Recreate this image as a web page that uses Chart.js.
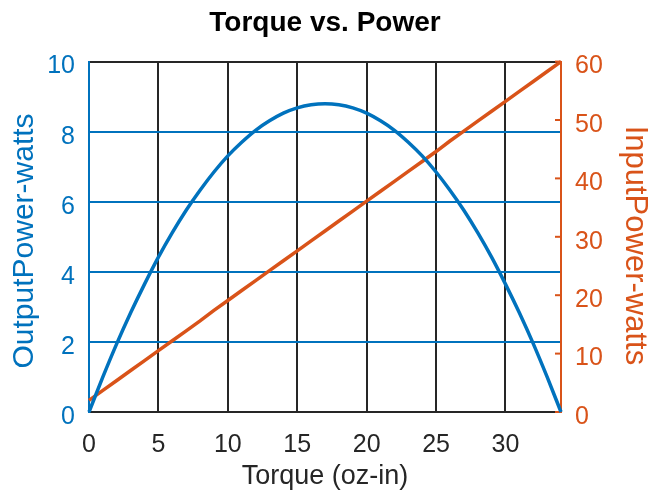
<!DOCTYPE html>
<html>
<head>
<meta charset="utf-8">
<script src="https://cdn.jsdelivr.net/npm/chart.js@4"></script>
<style>
  html, body { margin: 0; padding: 0; background: #fff; }
  #wrap { width: 660px; height: 491px; }
</style>
</head>
<body>
<div id="wrap"><canvas id="chart" width="660" height="491"></canvas></div>
<script>
// torque (oz-in) sample points
const torque = [0, 1, 2, 3, 4, 5, 6, 7, 8, 9, 10, 11, 12, 13, 14, 15, 16, 17,
    18, 19, 20, 21, 22, 23, 24, 25, 26, 27, 28, 29, 30, 31, 32, 33, 34];
// output power (watts), left axis
const outputPower = [0, 1.00, 1.95, 2.83, 3.65, 4.42, 5.12, 5.76, 6.33, 6.85, 7.31, 7.70,
    8.04, 8.31, 8.53, 8.68, 8.77, 8.80, 8.77, 8.68, 8.53, 8.31, 8.04, 7.70, 7.31,
    6.85, 6.33, 5.76, 5.12, 4.42, 3.65, 2.83, 1.95, 1.00, 0];
// input power (watts), right axis
const inputPower = [2.0, 3.7, 5.4, 7.1, 8.8, 10.5, 12.2, 13.9, 15.6, 17.4, 19.1, 20.8,
    22.5, 24.2, 25.9, 27.6, 29.3, 31.0, 32.7, 34.4, 36.1, 37.8, 39.5, 41.2, 42.9,
    44.6, 46.4, 48.1, 49.8, 51.5, 53.2, 54.9, 56.6, 58.3, 60.0];

const xTicks = [0, 5, 10, 15, 20, 25, 30];

const blue = '#0072BD';
const orange = '#D95319';
const dark = '#262626';
const font = 'Liberation Sans, Arial, Helvetica, sans-serif';

// short inward tick marks on the right axis (matlab style)
const innerTicks = {
    id: 'innerTicks',
    beforeDatasetsDraw(chart) {
        const s = chart.scales.y2;
        const c = chart.ctx;
        c.save();
        c.strokeStyle = orange;
        c.lineWidth = 2;
        s.ticks.forEach(t => {
            const y = s.getPixelForValue(t.value);
            c.beginPath();
            c.moveTo(s.left - 6, y);
            c.lineTo(s.left, y);
            c.stroke();
        });
        c.restore();
    }
};

const ctx = document.getElementById('chart').getContext('2d');
new Chart(ctx, {
    type: 'line',
    data: {
        datasets: [{
            label: 'OutputPower-watts',
            data: torque.map((t, i) => ({ x: t, y: outputPower[i] })),
            borderColor: blue,
            borderWidth: 3.5,
            pointRadius: 0,
            cubicInterpolationMode: 'monotone',
            yAxisID: 'y',
            clip: false
        }, {
            label: 'InputPower-watts',
            data: torque.map((t, i) => ({ x: t, y: inputPower[i] })),
            borderColor: orange,
            borderWidth: 3.5,
            pointRadius: 0,
            yAxisID: 'y2',
            clip: false
        }]
    },
    options: {
        responsive: false,
        animation: false,
        layout: { padding: { left: 0, right: 10, top: 0, bottom: 0 } },
        plugins: {
            legend: { display: false },
            tooltip: { enabled: false },
            title: {
                display: true,
                text: 'Torque vs. Power',
                color: '#000',
                font: { family: font, size: 28, weight: 'bold', lineHeight: 1.2 },
                padding: { top: 6, bottom: 22 }
            }
        },
        scales: {
            x: {
                type: 'linear',
                min: 0,
                max: 34,
                afterBuildTicks: (s) => { s.ticks = xTicks.map(v => ({ value: v })); },
                afterFit: (s) => { s.height = 79; },
                ticks: { color: dark, font: { family: font, size: 25 }, padding: 18 },
                grid: {
                    drawTicks: false,
                    lineWidth: 2,
                    color: (c) => (c.tick && c.tick.value === 0) ? 'rgba(0,0,0,0)' : dark
                },
                border: { color: dark, width: 2 },
                title: {
                    display: true,
                    text: 'Torque (oz-in)',
                    color: dark,
                    font: { family: font, size: 27, lineHeight: 1.1 },
                    padding: { top: 0, bottom: 0 }
                }
            },
            y: {
                position: 'left',
                min: 0,
                max: 10,
                ticks: { stepSize: 2, color: blue, font: { family: font, size: 25 }, padding: 14, labelOffset: 5 },
                afterFit: (s) => { s.width = 89; },
                grid: {
                    drawTicks: false,
                    lineWidth: 2,
                    color: (c) => {
                        const v = c.tick ? c.tick.value : null;
                        if (v === 0) return 'rgba(0,0,0,0)';
                        if (v === 10) return dark;
                        return blue;
                    }
                },
                border: { color: blue, width: 2 },
                title: {
                    display: true,
                    text: 'OutputPower-watts ',
                    color: blue,
                    font: { family: font, size: 30, lineHeight: 1.2 },
                    padding: { top: 7, bottom: 0 }
                }
            },
            y2: {
                position: 'right',
                min: 0,
                max: 60,
                ticks: { stepSize: 10, color: orange, font: { family: font, size: 25 }, padding: 14, labelOffset: 5 },
                afterFit: (s) => { s.width = 89; },
                grid: { drawOnChartArea: false, drawTicks: false },
                border: { color: orange, width: 2 },
                title: {
                    display: true,
                    text: '  InputPower-watts',
                    color: orange,
                    font: { family: font, size: 31, lineHeight: 1.0 },
                    padding: { top: 0, bottom: 0 }
                }
            }
        }
    },
    plugins: [innerTicks]
});
</script>
</body>
</html>
